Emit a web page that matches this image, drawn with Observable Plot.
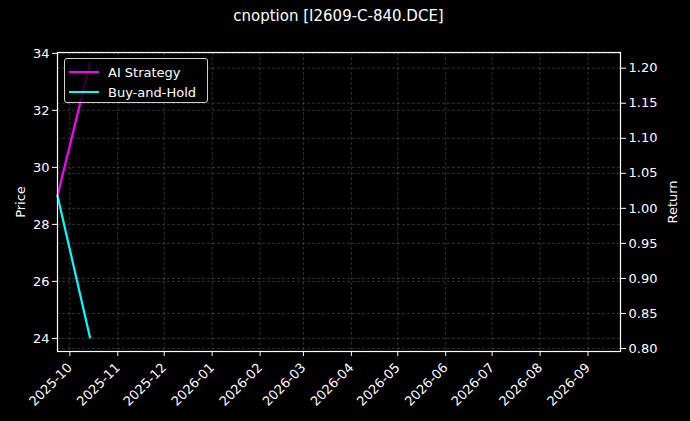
<!DOCTYPE html>
<html>
<head>
<meta charset="utf-8">
<script src="https://cdn.jsdelivr.net/npm/d3@7"></script>
<script src="https://cdn.jsdelivr.net/npm/@observablehq/plot@0.6"></script>
<style>
  html, body { margin: 0; padding: 0; background: #000; }
  #wrap { position: relative; width: 690px; height: 421px; background: #000; font-family: "DejaVu Sans", sans-serif; }
  #title { position: absolute; left: 0; width: 677px; top: 7px; text-align: center; color: #fff; font-size: 15px; line-height: 18px; }
  #chart { position: absolute; left: 0; top: 36px; }
  #legend { position: absolute; left: 64px; top: 58px; width: 144px; height: 45px; box-sizing: border-box;
            border: 1px solid #cfcfcf; border-radius: 3px; background: rgba(0,0,0,0.8); color: #fff; font-size: 13px; }
  .item { position: absolute; left: 4px; height: 16px; display: flex; align-items: center; }
  .sw { display: inline-block; width: 30px; height: 2.2px; margin-right: 9px; }
</style>
</head>
<body>
<div id="wrap">
  <div id="title">cnoption [I2609-C-840.DCE]</div>
  <div id="chart"></div>
  <div id="legend"></div>
</div>
<script>
// ---- data ----
const dates = ["2025-09-23", "2025-10-14"];
const aiStrategy = [1.018, 1.207];
const buyAndHold = [1.018, 0.8157];
const seriesNames = ["AI Strategy", "Buy-and-Hold"];
const seriesColors = ["#ff00ff", "#00ffff"];
const priceTicks = [24, 26, 28, 30, 32, 34];
const returnTicks = [0.80, 0.85, 0.90, 0.95, 1.00, 1.05, 1.10, 1.15, 1.20];
const monthTicks = ["2025-10-01","2025-11-01","2025-12-01","2026-01-01","2026-02-01","2026-03-01",
                    "2026-04-01","2026-05-01","2026-06-01","2026-07-01","2026-08-01","2026-09-01"];
const xDomain = ["2025-09-23", "2026-09-22"];
const priceDomain = [23.54, 34.03];
const returnDomain = [0.7957, 1.2224];

// ---- build tables ----
const parse = d3.utcParse("%Y-%m-%d");
const rows = [];
dates.forEach((d, i) => {
  rows.push({date: parse(d), value: aiStrategy[i], series: seriesNames[0]});
  rows.push({date: parse(d), value: buyAndHold[i], series: seriesNames[1]});
});
const months = monthTicks.map(parse);
const priceToReturn = d3.scaleLinear().domain(priceDomain).range(returnDomain);
const priceTickPos = priceTicks.map(p => priceToReturn(p));
const gridStyle = {stroke: "#9a9a9a", strokeOpacity: 0.45, strokeWidth: 0.7, strokeDasharray: "3,2"};

const chart = Plot.plot({
  width: 690,
  height: 385,
  marginTop: 16,
  marginBottom: 70,
  marginLeft: 57,
  marginRight: 70,
  style: {background: "#000", color: "#fff", fontFamily: "DejaVu Sans, sans-serif", fontSize: "13px"},
  x: {type: "utc", domain: xDomain.map(parse)},
  y: {domain: returnDomain},
  color: {domain: seriesNames, range: seriesColors},
  marks: [
    Plot.ruleX(months, {...gridStyle}),
    Plot.ruleY(returnTicks, {...gridStyle}),
    Plot.ruleY(priceTickPos, {...gridStyle}),
    Plot.line(rows, {x: "date", y: "value", z: "series", stroke: "series", strokeWidth: 2.2}),
    Plot.frame({stroke: "#fff", strokeWidth: 1.2}),
    Plot.axisX({ticks: months, tickFormat: d3.utcFormat("%Y-%m"), tickRotate: -45, tickSize: 5,
                stroke: "#fff", fill: "#fff", label: null, tickPadding: 9}),
    Plot.axisY({anchor: "left", ticks: priceTickPos, tickSize: 5, tickPadding: 3,
                tickFormat: v => String(Math.round(priceToReturn.invert(v))),
                label: "Price", labelAnchor: "center", labelArrow: "none", labelOffset: 42, stroke: "#fff", fill: "#fff"}),
    Plot.axisY({anchor: "right", ticks: returnTicks, tickSize: 5, tickPadding: 3,
                tickFormat: d3.format(".2f"),
                label: "Return", labelAnchor: "center", labelArrow: "none", labelOffset: 56, stroke: "#fff", fill: "#fff"})
  ]
});
document.getElementById("chart").appendChild(chart);

// ---- legend ----
const legend = document.getElementById("legend");
seriesNames.forEach((name, i) => {
  const item = document.createElement("div");
  item.className = "item";
  item.style.top = (5 + i * 20) + "px";
  const sw = document.createElement("span");
  sw.className = "sw";
  sw.style.background = seriesColors[i];
  item.appendChild(sw);
  item.appendChild(document.createTextNode(name));
  legend.appendChild(item);
});
</script>
</body>
</html>
